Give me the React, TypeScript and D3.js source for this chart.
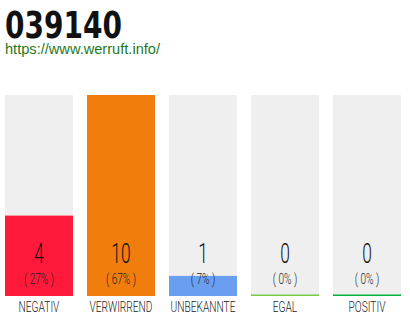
import React from "react";
import * as d3 from "d3";

const categories = ["NEGATIV", "VERWIRREND", "UNBEKANNTE", "EGAL", "POSITIV"];
const values = [4, 10, 1, 0, 0];
const percents = ["( 27% )", "( 67% )", "( 7% )", "( 0% )", "( 0% )"];
const colors = ["#ff1a3c", "#f07d0e", "#6a9ff0", "#77cc44", "#00b33c"];
const title = "039140";
const url = "https://www.werruft.info/";

export default function App() {
  const W = 410, H = 320;
  const x = d3.scaleBand<string>().domain(categories).range([5, 401]).paddingInner(14 / 82).paddingOuter(0);
  const y = d3.scaleLinear().domain([0, d3.max(values) as number]).range([296, 95]);
  const bw = x.bandwidth();
  const cond = (cx: number, s: number) => `translate(${cx},0) scale(${s},1) translate(${-cx},0)`;
  return (
    <svg width={W} height={H} style={{ position: "absolute", left: 0, top: 0 }}>
      <text x={5} y={38} fontFamily="'DejaVu Sans Condensed', 'DejaVu Sans'" fontWeight="bold" fontSize={38}
        textLength={117} lengthAdjust="spacingAndGlyphs" fill="#111">{title}</text>
      <text x={5} y={54} fontFamily="'Liberation Sans', Arial" fontSize={15} fill="#1c7a24"
        textLength={155} lengthAdjust="spacingAndGlyphs">{url}</text>
      {categories.map((c, i) => {
        const bx = x(c) as number;
        const cx = bx + bw / 2;
        const v = values[i];
        return (
          <g key={c}>
            <rect x={bx} y={95} width={bw} height={201} fill="#efefef" />
            {v > 0 ? (
              <rect x={bx} y={y(v)} width={bw} height={296 - y(v)} fill={colors[i]} />
            ) : (
              <rect x={bx} y={294.5} width={bw} height={1.5} fill={colors[i]} />
            )}
            <text x={cx} y={263} textAnchor="middle" fontFamily="Roboto" fontWeight={300} fontSize={28}
              fill="#111" transform={cond(cx, 0.62)}>{v}</text>
            <text x={cx} y={284} textAnchor="middle" fontFamily="Roboto" fontWeight={300} fontSize={14}
              fill="#222" transform={cond(cx, 0.72)}>{percents[i]}</text>
            <text x={cx} y={312} textAnchor="middle" fontFamily="Roboto" fontWeight={300} fontSize={15}
              fill="#222" transform={cond(cx, 0.68)}>{c}</text>
          </g>
        );
      })}
    </svg>
  );
}
